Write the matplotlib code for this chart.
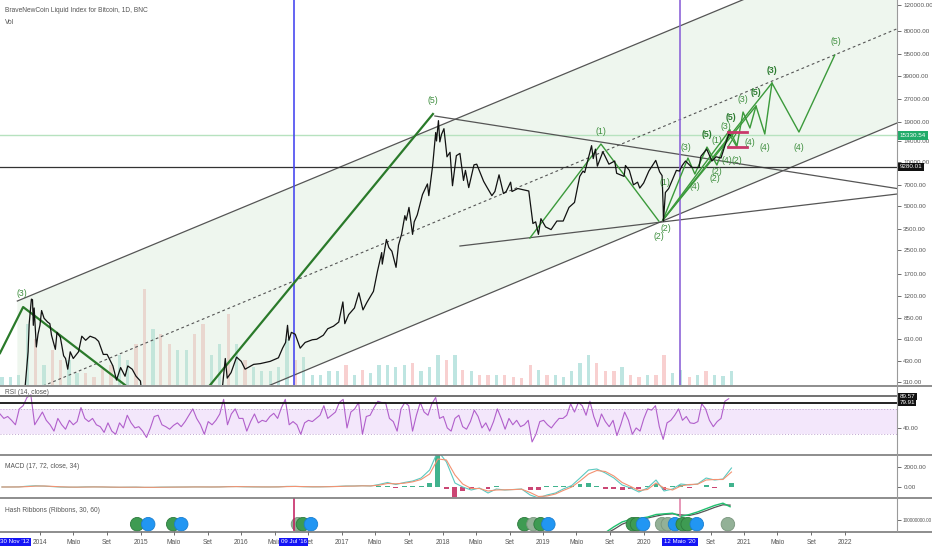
import numpy as np
import pandas as pd
import matplotlib
matplotlib.use("Agg")
import matplotlib.pyplot as plt
import matplotlib.dates as mdates
from matplotlib.lines import Line2D
from matplotlib.ticker import FixedLocator, NullLocator, FuncFormatter

plt.rcParams['font.family'] = ['Liberation Sans Narrow', 'Liberation Sans', 'DejaVu Sans']

# ---------------- data ----------------
price_dates = [
    '2013-08-08', '2013-09-10', '2013-10-05', '2013-10-25', '2013-11-08', '2013-11-18', '2013-11-22',
    '2013-11-30', '2013-12-04', '2013-12-07', '2013-12-10', '2013-12-18', '2013-12-24', '2013-12-31',
    '2014-01-06', '2014-01-15', '2014-01-28', '2014-02-05', '2014-02-11', '2014-02-25', '2014-03-03',
    '2014-03-15', '2014-03-27', '2014-04-03', '2014-04-11', '2014-04-20', '2014-05-01', '2014-05-20',
    '2014-06-01', '2014-06-15', '2014-07-01', '2014-07-20', '2014-08-01', '2014-08-18', '2014-09-01',
    '2014-09-22', '2014-10-05', '2014-10-20', '2014-11-05', '2014-11-15', '2014-12-01', '2014-12-15',
    '2014-12-31', '2015-01-14', '2015-02-15', '2015-03-10', '2015-04-15', '2015-06-15', '2015-07-10',
    '2015-08-20', '2015-10-01', '2015-10-25', '2015-11-04', '2015-11-11', '2015-11-25', '2015-12-15',
    '2016-01-01', '2016-01-15', '2016-02-15', '2016-03-10', '2016-04-15', '2016-05-15', '2016-05-30',
    '2016-06-10', '2016-06-17', '2016-06-22', '2016-07-01', '2016-07-15', '2016-08-02', '2016-08-20',
    '2016-09-15', '2016-10-01', '2016-10-25', '2016-11-10', '2016-12-01', '2016-12-20', '2017-01-04',
    '2017-01-11', '2017-01-25', '2017-02-15', '2017-03-03', '2017-03-18', '2017-04-01', '2017-04-25',
    '2017-05-10', '2017-05-25', '2017-05-27', '2017-06-11', '2017-06-20', '2017-07-01', '2017-07-16',
    '2017-07-25', '2017-08-05', '2017-08-17', '2017-08-22', '2017-09-01', '2017-09-14', '2017-09-20',
    '2017-10-01', '2017-10-20', '2017-11-07', '2017-11-12', '2017-11-26', '2017-12-07', '2017-12-10',
    '2017-12-17', '2017-12-22', '2017-12-28', '2018-01-06', '2018-01-17', '2018-01-28', '2018-02-06',
    '2018-02-20', '2018-03-05', '2018-03-18', '2018-03-25', '2018-04-06', '2018-04-25', '2018-05-05',
    '2018-05-30', '2018-06-10', '2018-06-29', '2018-07-10', '2018-07-25', '2018-08-10', '2018-08-20',
    '2018-09-05', '2018-09-10', '2018-10-01', '2018-10-25', '2018-11-10', '2018-11-20', '2018-11-25',
    '2018-12-05', '2018-12-15', '2018-12-24', '2019-01-10', '2019-01-30', '2019-02-20', '2019-03-15',
    '2019-04-05', '2019-04-25', '2019-05-14', '2019-05-26', '2019-06-01', '2019-06-26', '2019-07-02',
    '2019-07-10', '2019-07-17', '2019-08-06', '2019-08-28', '2019-09-18', '2019-09-25', '2019-10-22',
    '2019-10-27', '2019-11-10', '2019-11-25', '2019-12-10', '2019-12-18', '2020-01-01', '2020-01-20',
    '2020-02-14', '2020-02-28', '2020-03-08', '2020-03-12', '2020-03-13', '2020-03-20', '2020-04-01',
    '2020-04-29', '2020-05-10', '2020-05-20', '2020-06-01', '2020-06-25', '2020-07-20', '2020-07-27',
    '2020-08-17', '2020-09-05', '2020-09-20', '2020-10-08', '2020-10-21', '2020-11-05', '2020-11-11',
]
price_close = [
    105, 125, 125, 190, 300, 500, 780,
    1150, 1140, 760, 1000, 540, 660, 760,
    960, 850, 800, 780, 650, 520, 680,
    630, 470, 450, 380, 500, 450, 500,
    640, 600, 640, 620, 590, 480, 480,
    400, 320, 390, 340, 400, 380, 340,
    315, 180, 240, 290, 220, 240, 290,
    230, 240, 290, 450, 330, 360, 460,
    430, 380, 410, 415, 430, 455, 530,
    580, 760, 600, 680, 660, 530, 580,
    605, 610, 650, 720, 750, 800, 1100,
    780, 900, 1000, 1270, 970, 1090, 1300,
    1800, 2400, 2000, 2950, 2600, 2450, 1900,
    2700, 3200, 4300, 4000, 4900, 3200, 3900,
    4350, 6000, 7100, 5900, 9500, 16000, 14000,
    19300, 13800, 15500, 17000, 10900, 11700, 6900,
    11100, 11500, 7500, 8800, 6700, 9600, 9700,
    7400, 6800, 5900, 6300, 8200, 6100, 6300,
    7300, 6300, 6600, 6450, 6350, 4500, 3800,
    3900, 3200, 4100, 3600, 3450, 3950, 3950,
    4900, 5300, 8000, 8700, 8500, 13000, 10600,
    12300, 9400, 11800, 9700, 10200, 8400, 8000,
    9500, 8800, 7000, 7300, 6650, 7200, 8700,
    10300, 8600, 8100, 4900, 3950, 6200, 6600,
    8800, 8700, 9500, 10200, 9200, 9200, 11000,
    12300, 10200, 10900, 10700, 12800, 15500, 15330.54,
]

# monthly volume (arbitrary units), Aug 2013 .. Nov 2020
vol_values = [
    8, 8, 10, 60, 45,
    20, 35, 25, 25, 12, 12, 8, 16, 20, 30, 25, 40,
    95, 55, 50, 40, 35, 35, 50, 60, 30, 40, 70, 40,
    25, 18, 14, 14, 18, 45, 25, 28, 10, 10, 14, 14,
    20, 10, 15, 12, 20, 20, 18, 20, 22, 14, 18, 30,
    25, 30, 15, 14, 10, 10, 10, 10, 8, 7, 20, 15,
    10, 10, 8, 14, 22, 30, 22, 14, 14, 18, 10, 8,
    10, 10, 30, 12, 15, 8, 10, 14, 10, 9, 14,
]

# RSI(14) every 14 days from 2013-08-08
rsi_values = [
    62, 55, 58, 52, 45, 70, 75, 88, 92, 45, 55,
    65, 52, 45, 35, 55, 45, 38, 52, 45, 50, 72, 55, 50, 55, 45, 42, 33, 48, 35, 30, 48, 40, 60, 48, 40, 42,
    35, 25, 40, 58, 60, 45, 42, 38, 44, 48, 42, 50, 60, 70, 55, 45, 30, 50, 45, 52, 62, 85, 45, 62, 70, 55,
    55, 35, 50, 62, 48, 52, 50, 58, 63, 55, 72, 85, 45, 50, 45, 30, 48, 52, 50, 55, 60, 75, 55, 60, 65, 80,
    85, 40, 65, 70, 80, 30, 58, 60, 72, 82, 80, 80, 55, 50, 35, 70, 80, 75, 35, 60, 80, 65, 60, 78, 88, 55,
    58, 40, 35, 55, 60, 42, 38, 50, 68, 58, 40, 48, 35, 50, 70, 55, 38, 55, 45, 52, 42, 45, 52, 18, 30, 50,
    52, 45, 40, 48, 55, 55, 60, 78, 65, 80, 75, 60, 82, 58, 42, 62, 50, 42, 52, 28, 45, 65, 52, 30, 40, 35,
    55, 70, 68, 75, 42, 22, 48, 52, 60, 70, 52, 58, 48, 47, 50, 78, 70, 52, 42, 50, 55, 82, 86,
]
rsi_level_a = 89.57
rsi_level_b = 79.91

# MACD (17, 72, 34), monthly, Aug 2013 .. Nov 2020
macd_values = [
    0, 2, 10, 80, 120,
    90, 40, 0, -20, -15, 10, 15, 0, -20, -30, -20, -15,
    -40, -35, -15, -10, -5, 0, 10, 5, 0, 10, 40, 45,
    20, 10, 5, 5, 15, 60, 60, 30, 15, 20, 40, 60,
    100, 100, 130, 100, 250, 450, 250, 450, 600, 900, 1700, 3600,
    2500, 400, 0, -300, -100, -600, -200, -300, -250, -200, -800, -1100,
    -800, -600, -200, 150, 900, 1700, 1800, 1400, 900, 200, -100, -500,
    -100, 700, -400, -200, 300, 200, 300, 900, 700, 800, 1900,
]
signal_values = [
    0, 1, 5, 40, 90,
    100, 60, 20, -5, -15, -5, 5, 5, -10, -20, -22, -18,
    -30, -35, -25, -15, -8, -3, 5, 6, 3, 6, 25, 40,
    30, 18, 10, 6, 10, 40, 55, 40, 22, 20, 32, 50,
    80, 95, 115, 110, 180, 350, 320, 380, 520, 750, 1300, 2800,
    2700, 1200, 300, -150, -150, -400, -300, -280, -260, -220, -550, -950,
    -900, -700, -350, 0, 600, 1300, 1650, 1550, 1100, 450, 50, -350,
    -250, 400, -100, -300, 100, 250, 280, 700, 750, 750, 1500,
]
hist_values = [
    0, 0, 5, 40, 30,
    -10, -20, -20, -15, 0, 10, 10, -5, -10, -10, 0, 5,
    -10, 0, 10, 5, 3, 3, 5, 0, -3, 5, 15, 5,
    -10, -8, -5, 0, 5, 20, 5, -10, -8, 0, 8, 10,
    20, 5, 15, -10, 70, 100, -70, 70, 80, 150, 400, 3300,
    -200, -1000, -400, -150, 50, -200, 100, -20, 10, 20, -250, -300,
    100, 100, 150, 150, 300, 400, 150, -150, -200, -250, -150, -150,
    150, 300, -300, 100, 200, -50, 20, 200, -50, 50, 400,
]

# Hash ribbons (30 / 60 day hash-rate averages)
hash_dates = ['2019-08-15', '2019-09-15', '2019-10-15', '2019-11-15', '2019-12-15', '2020-01-15',
              '2020-02-15', '2020-03-15', '2020-04-15', '2020-05-15', '2020-06-15', '2020-07-15',
              '2020-08-15', '2020-09-15', '2020-10-15', '2020-11-10']
hash_30 = [0.62e8, 0.80e8, 0.95e8, 1.03e8, 1.06e8, 1.10e8, 1.18e8, 1.20e8, 1.22e8, 1.12e8, 1.18e8,
           1.26e8, 1.36e8, 1.46e8, 1.53e8, 1.42e8]
hash_60 = [0.58e8, 0.72e8, 0.88e8, 0.98e8, 1.04e8, 1.07e8, 1.13e8, 1.18e8, 1.20e8, 1.17e8, 1.15e8,
           1.21e8, 1.30e8, 1.40e8, 1.48e8, 1.47e8]
hr_signal_dates = ['2014-12-19', '2015-01-28', '2015-04-29', '2015-05-28', '2016-07-25', '2016-08-12',
                   '2016-09-10', '2018-10-25', '2018-11-27', '2018-12-23', '2019-01-20', '2019-11-23',
                   '2019-12-08', '2019-12-30', '2020-03-08', '2020-03-29', '2020-04-24', '2020-05-22',
                   '2020-06-09', '2020-07-12', '2020-11-02']
hr_signal_kind = ['g', 'b', 'g', 'b', 'x', 'g', 'b', 'g', 'x', 'g', 'b', 'g',
                  'g', 'b', 'x', 'x', 'b', 'g', 'g', 'b', 'x']
hr_signal_level = 0.88e8

# drawings on the price pane
chan_dates = ['2013-10-10', '2022-07-09']
chan_upper = [1116, 358200]
chan_mid = [246, 82400]
chan_lower = [55.6, 18590]
tri_top_dates = ['2017-12-04', '2022-07-09']
tri_top = [20770, 6603]
tri_bot_dates = ['2018-03-05', '2022-07-09']
tri_bot = [2662, 6053]
big_wave_a_dates = ['2013-08-08', '2013-10-31', '2014-11-05']
big_wave_a = [490, 1015, 296]
big_wave_b_dates = ['2015-09-10', '2017-11-27']
big_wave_b = [296, 21440]
wave_1819_dates = ['2018-11-14', '2019-07-30', '2020-02-25']
wave_1819 = [3020, 13340, 3951]
wave_proj_dates = ['2020-03-11', '2020-06-10', '2020-07-05', '2020-08-18', '2020-09-23', '2020-11-09',
                   '2020-12-05', '2020-12-27', '2021-01-21', '2021-02-12', '2021-03-16', '2021-04-11',
                   '2021-07-18', '2021-11-25']
wave_proj = [4015, 10690, 8305, 12720, 9574, 16650, 12930, 22120, 17180, 24320, 15620, 34990, 16120, 54450]
ray_ends_dates = ['2020-11-09', '2021-02-12', '2021-04-11']
ray_ends = [16650, 24320, 34990]
cross_dates = ['2020-11-02', '2020-12-05']
cross_a = [16120, 12720]
cross_b = [12720, 16120]
box_dates = ['2020-11-02', '2021-01-10']
box_levels = [16120, 12720]
vline_dates = ['2016-07-09', '2020-05-12']
level_last = 15330.54
level_line = 9280.01

wave_label_text = ['(3)', '(5)', '(1)', '(2)', '(2)', '(1)', '(3)', '(4)', '(5)', '(1)', '(2)', '(2)',
                   '(3)', '(5)', '(4)', '(2)', '(4)', '(3)', '(5)', '(4)', '(3)', '(4)', '(5)']
wave_label_dates = ['2013-10-28', '2017-11-27', '2019-07-30', '2020-02-25', '2020-03-22', '2020-03-18',
                    '2020-06-03', '2020-07-05', '2020-08-18', '2020-09-23', '2020-09-16', '2020-09-23',
                    '2020-10-26', '2020-11-13', '2020-10-29', '2020-12-05', '2021-01-21', '2020-12-27',
                    '2021-02-12', '2021-03-16', '2021-04-11', '2021-07-18', '2021-11-28']
wave_label_price = [1266, 26330, 16380, 3117, 3538, 7318, 12720, 6870, 15620, 14210, 7796, 8708,
                    17730, 20440, 10360, 10360, 13770, 27160, 30350, 12720, 42970, 12720, 66890]
wave_label_bold = [False, False, False, False, False, False, False, False, True, False, False, False,
                   False, True, False, False, False, False, True, False, True, False, False]

price_ticks = [120000, 80000, 55000, 39000, 27000, 19000, 14000, 10000, 7000, 5000, 3500, 2500,
               1700, 1200, 850, 610, 430, 310]
date_ticks = []
date_labels = []
for yr in range(2014, 2023):
    for mon, lab in ((1, str(yr)), (5, 'Maio'), (9, 'Set')):
        if (yr == 2022 and mon > 1) or (yr == 2020 and mon == 5):
            continue
        date_ticks.append(f'{yr}-{mon:02d}-01')
        date_labels.append(lab)


def dn(lst):
    return mdates.date2num(pd.to_datetime(lst))


x_lo, x_hi = dn(['2013-08-08', '2022-07-09'])
vol_dates = dn(pd.date_range('2013-08-01', periods=len(vol_values), freq='MS') + pd.Timedelta(days=14))
rsi_dates = dn(pd.date_range('2013-08-08', periods=len(rsi_values), freq='14D'))
macd_dates = vol_dates

# ---------------- figure ----------------
W, H = 932, 550
PR = 897
FS = 4.8
fig = plt.figure(figsize=(W / 100, H / 100), dpi=100)


def pane(top, bottom):
    a = fig.add_axes([0, 1 - bottom / H, PR / W, (bottom - top) / H])
    a.set_xlim(x_lo, x_hi)
    for s in a.spines.values():
        s.set_visible(False)
    a.yaxis.tick_right()
    a.tick_params(axis='y', labelsize=4.5, colors='#555555', length=3, width=0.6, pad=1.5)
    a.tick_params(axis='x', bottom=False, labelbottom=False)
    a.yaxis.set_minor_locator(NullLocator())
    return a


def side_box(a, val, fc, pad=0.25):
    a.text(1.003, val, f'{val:.2f}', transform=a.get_yaxis_transform(), ha='left', va='center',
           fontsize=4.5, color='white', zorder=10, clip_on=False,
           bbox=dict(boxstyle=f'square,pad={pad}', fc=fc, ec='none'))


fmt2 = FuncFormatter(lambda v, p: f'{v:.2f}')
green_txt = '#3f8f3f'
wave_col = '#3b9a3b'

# volume pane (behind price)
ax_vol = pane(0, 385)
ax_vol.set_ylim(0, 380)
ax_vol.set_yticks([])
px = dn(price_dates)
logp = np.log10(price_close)
vol_up = np.interp(vol_dates + 14, px, logp) >= np.interp(vol_dates - 14, px, logp)
ax_vol.bar(vol_dates, vol_values, width=12, color=['#7fcdc5' if u else '#f3a3a3' for u in vol_up],
           alpha=0.5, lw=0)

ax = pane(0, 385)
ax.patch.set_visible(False)
ax.set_yscale('log')
ax.set_ylim(296, 129900)
ax.yaxis.set_major_locator(FixedLocator(price_ticks))
ax.yaxis.set_minor_locator(NullLocator())
ax.yaxis.set_major_formatter(fmt2)

cd = dn(chan_dates)
ax.fill(list(cd) + list(cd[::-1]), chan_upper + chan_lower[::-1], color='#cfe6cf', alpha=0.35, lw=0, zorder=0)
ax.plot(cd, chan_upper, color='#555555', lw=0.9, zorder=2)
ax.plot(cd, chan_lower, color='#555555', lw=0.9, zorder=2)
ax.plot(cd, chan_mid, color='#555555', lw=0.8, ls=(0, (2.5, 2.5)), zorder=2)
ax.plot(dn(tri_top_dates), tri_top, color='#555555', lw=0.9, zorder=2)
ax.plot(dn(tri_bot_dates), tri_bot, color='#555555', lw=0.9, zorder=2)
ax.axhline(level_line, color='#333333', lw=0.9, zorder=2)
ax.axhline(level_last, color='#b7e2bf', lw=1.0, zorder=1)
ax.axvline(dn([vline_dates[0]])[0], color='#4a4af0', lw=1.2, zorder=3)
ax.axvline(dn([vline_dates[1]])[0], color='#8d65d8', lw=1.2, zorder=3)

ax.plot(dn(big_wave_a_dates), big_wave_a, color='#2a7a2a', lw=1.6, zorder=3)
ax.plot(dn(big_wave_b_dates), big_wave_b, color='#2a7a2a', lw=1.6, zorder=3)
ax.plot(dn(wave_1819_dates), wave_1819, color=wave_col, lw=1.0, zorder=3)
ax.plot(dn(wave_proj_dates), wave_proj, color=wave_col, lw=1.0, zorder=3)
for d, p in zip(dn(ray_ends_dates), ray_ends):
    ax.plot([dn([wave_proj_dates[0]])[0], d], [wave_proj[0], p], color=wave_col, lw=1.0, zorder=3)
ax.plot(dn(cross_dates), cross_a, color=wave_col, lw=0.9, zorder=3)
ax.plot(dn(cross_dates), cross_b, color=wave_col, lw=0.9, zorder=3)
for lv in box_levels:
    ax.plot(dn(box_dates), [lv, lv], color='#c9386a', lw=2.0, zorder=4)

ax.plot(px, price_close, color='#111111', lw=0.9, zorder=5)

for t, d, p, b in zip(wave_label_text, dn(wave_label_dates), wave_label_price, wave_label_bold):
    ax.text(d, p, t, ha='center', va='center', fontsize=6.3, color='#2e7d32' if b else green_txt,
            fontweight='bold' if b else 'normal', zorder=6)

side_box(ax, level_last, '#22ab6a', 0.3)
side_box(ax, level_line, '#111111', 0.3)

# RSI pane
ax_rsi = pane(386, 454)
ax_rsi.set_ylim(-1, 106)
ax_rsi.axhspan(30, 70, color='#f3e7fb', lw=0, zorder=0)
for lv in (30, 70):
    ax_rsi.axhline(lv, color='#c0a6d0', lw=0.7, ls=(0, (1, 2)), zorder=1)
ax_rsi.plot(rsi_dates, rsi_values, color='#b15fcb', lw=0.8, zorder=3)
ax_rsi.axhline(rsi_level_a, color='#666666', lw=1.3, zorder=4)
ax_rsi.axhline(rsi_level_b, color='#111111', lw=1.3, zorder=4)
ax_rsi.set_yticks([40])
ax_rsi.yaxis.set_major_formatter(fmt2)
side_box(ax_rsi, rsi_level_a, '#111111', 0.2)
side_box(ax_rsi, rsi_level_b, '#111111', 0.2)

# MACD pane
ax_macd = pane(455, 497)
ax_macd.set_ylim(-1000, 3200)
ax_macd.bar(macd_dates, hist_values, width=18, lw=0, zorder=1,
            color=['#1fa67a' if h >= 0 else '#c2255c' for h in hist_values], alpha=0.85)
ax_macd.plot(macd_dates, macd_values, color='#5cc9c0', lw=0.8, zorder=2)
ax_macd.plot(macd_dates, signal_values, color='#f39272', lw=0.8, zorder=2)
ax_macd.set_yticks([0, 2000])
ax_macd.yaxis.set_major_formatter(fmt2)

# Hash ribbons pane
ax_hr = pane(498, 531)
ax_hr.set_ylim(0.67e8, 1.69e8)
hd = dn(hash_dates)
h30 = np.array(hash_30)
h60 = np.array(hash_60)
ax_hr.fill_between(hd, h30, h60, where=h30 < h60, interpolate=True, color='#e0588a', alpha=0.6, lw=0)
ax_hr.plot(hd, hash_60, color='#555555', lw=0.9, zorder=2)
ax_hr.plot(hd, hash_30, color='#1fc06e', lw=1.0, zorder=3)
kind_col = {'g': '#3e9b52', 'x': '#93b197', 'b': '#2196f3'}
kind_edge = {'g': '#2d7a3d', 'x': '#7a967e', 'b': '#1a7fd0'}
ax_hr.scatter(dn(hr_signal_dates), [hr_signal_level] * len(hr_signal_dates), s=95,
              c=[kind_col[k] for k in hr_signal_kind], edgecolors=[kind_edge[k] for k in hr_signal_kind],
              linewidths=0.6, zorder=4, clip_on=False)
ax_hr.axvline(dn([vline_dates[0]])[0], color='#c2185b', lw=1.1, zorder=5)
ax_hr.axvline(dn([vline_dates[1]])[0], ymin=0.45, color='#e07aa4', lw=1.1, zorder=5)
ax_hr.set_yticks([1e8])
ax_hr.yaxis.set_major_formatter(fmt2)
ax_hr.tick_params(axis='y', labelsize=3.4, pad=1)

ax_hr.tick_params(axis='x', bottom=True, labelbottom=True, labelsize=FS, colors='#555555',
                  length=3, width=0.6, pad=3)
ax_hr.set_xticks(dn(date_ticks))
ax_hr.set_xticklabels(date_labels)

box_kw = dict(fontsize=4.4, color='white', zorder=10, clip_on=False, va='center',
              bbox=dict(boxstyle='square,pad=0.3', fc='#1414f5', ec='none'))
for txt, d in (("09 Jul '16", vline_dates[0]), ("12 Maio '20", vline_dates[1])):
    ax_hr.text(dn([d])[0], -0.33, txt, transform=ax_hr.get_xaxis_transform(), ha='center', **box_kw)
ax_hr.text(0.0, -0.33, "30 Nov '12", transform=ax_hr.transAxes, ha='left', **box_kw)

# pane separators and price-scale border
for yp in (385.5, 454.5, 497.5, 531.5):
    fig.add_artist(Line2D([0, 1], [1 - yp / H] * 2, transform=fig.transFigure, color='#7a7a7a', lw=1.2))
fig.add_artist(Line2D([PR / W] * 2, [1 - 531 / H, 1], transform=fig.transFigure, color='#9a9a9a', lw=0.8))

# titles
txt_kw = dict(fontsize=FS, color='#555555', va='center', ha='left')
fig.text(5 / W, 1 - 11 / H, 'BraveNewCoin Liquid Index for Bitcoin, 1D, BNC', **txt_kw)
fig.text(5 / W, 1 - 23 / H, 'Vol', **txt_kw)
fig.text(5 / W, 1 - 392 / H, 'RSI (14, close)', **txt_kw)
fig.text(5 / W, 1 - 466 / H, 'MACD (17, 72, close, 34)', **txt_kw)
fig.text(5 / W, 1 - 510 / H, 'Hash Ribbons (Ribbons, 30, 60)', **txt_kw)

fig.savefig('out.png', dpi=100)
